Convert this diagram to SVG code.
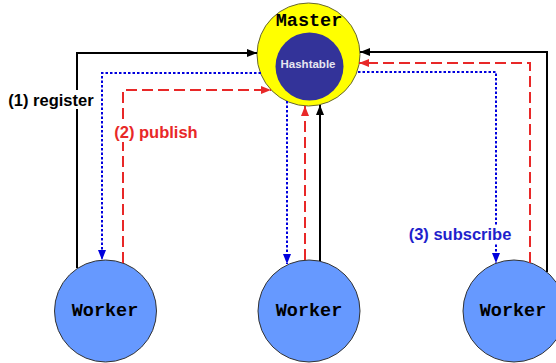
<svg xmlns="http://www.w3.org/2000/svg" width="556" height="363" viewBox="0 0 556 363">
  <style>
    .link { fill: none; stroke-width: 2; }
    .reg { stroke: #000000; }
    .pub { stroke: #e82828; stroke-dasharray: 11 5; }
    .sub { stroke: #0000dd; stroke-dasharray: 2.5 2; }
    .lbl { font-family: "Liberation Sans", Arial, sans-serif; font-weight: bold; font-size: 16.5px; text-anchor: middle; dominant-baseline: central; }
    .mono { font-family: "Liberation Mono", "Courier New", monospace; font-weight: bold; font-size: 18.5px; text-anchor: middle; dominant-baseline: central; fill: #000; }
    .worker { fill: #6699ff; stroke: #333333; stroke-width: 1; }
    .bg { fill: #ffffff; }
  </style>
  <defs>
    <marker id="arrBlack" markerUnits="userSpaceOnUse" markerWidth="11" markerHeight="9" refX="10" refY="4" orient="auto">
      <path d="M0,0 L10,4 L0,8 z" fill="#000000"/>
    </marker>
    <marker id="arrRed" markerUnits="userSpaceOnUse" markerWidth="11" markerHeight="9" refX="10" refY="4" orient="auto">
      <path d="M0,0 L10,4 L0,8 z" fill="#e82828"/>
    </marker>
    <marker id="arrBlue" markerUnits="userSpaceOnUse" markerWidth="11" markerHeight="9" refX="10" refY="4" orient="auto">
      <path d="M0,0 L10,4 L0,8 z" fill="#0000dd"/>
    </marker>
  </defs>

  <rect width="556" height="363" fill="#ffffff"/>

  <!-- nodes -->
  <g id="master">
    <circle cx="308.5" cy="54.5" r="51.5" fill="#ffff00" stroke="#666633" stroke-width="1"/>
    <circle cx="309.5" cy="66.5" r="34" fill="#333399"/>
    <text class="mono" x="309" y="21">Master</text>
    <text x="308" y="64" font-family="'Liberation Sans', Arial, sans-serif" font-weight="bold" font-size="11.5px" fill="#e6e6f0" text-anchor="middle" dominant-baseline="central">Hashtable</text>
  </g>
  <g id="worker-left">
    <circle class="worker" cx="105.5" cy="311" r="51"/>
    <text class="mono" x="105" y="311">Worker</text>
  </g>
  <g id="worker-middle">
    <circle class="worker" cx="309" cy="311" r="51"/>
    <text class="mono" x="309" y="311">Worker</text>
  </g>
  <g id="worker-right">
    <circle class="worker" cx="514" cy="311" r="51"/>
    <text class="mono" x="513" y="311">Worker</text>
  </g>

  <!-- connectors -->
  <g id="connectors">
    <!-- left worker -->
    <path class="link reg" d="M77,268 V53 H257" marker-end="url(#arrBlack)"/>
    <path class="link sub" d="M261,73 H102 V260" marker-end="url(#arrBlue)"/>
    <path class="link pub" d="M123,263 V90 H271" marker-end="url(#arrRed)"/>
    <!-- middle worker -->
    <path class="link sub" d="M287,101 V264" marker-end="url(#arrBlue)"/>
    <path class="link pub" d="M305,260 V106" marker-end="url(#arrRed)"/>
    <path class="link reg" d="M320,261 V105" marker-end="url(#arrBlack)"/>
    <!-- right worker -->
    <path class="link reg" d="M547,272 V52 H360" marker-end="url(#arrBlack)"/>
    <path class="link pub" d="M530,263 V63 H359" marker-end="url(#arrRed)"/>
    <path class="link sub" d="M358,72 H496 V263" marker-end="url(#arrBlue)"/>

    <!-- labels -->
    <rect class="bg" x="6" y="90" width="91" height="19"/>
    <text class="lbl" x="51" y="99.5" fill="#000000">(1) register</text>
    <rect class="bg" x="111" y="123" width="89" height="19"/>
    <text class="lbl" x="156" y="132" fill="#e82828">(2) publish</text>
    <rect class="bg" x="405" y="225" width="110" height="19"/>
    <text class="lbl" x="460" y="234" fill="#1f1fcc">(3) subscribe</text>
  </g>
</svg>
